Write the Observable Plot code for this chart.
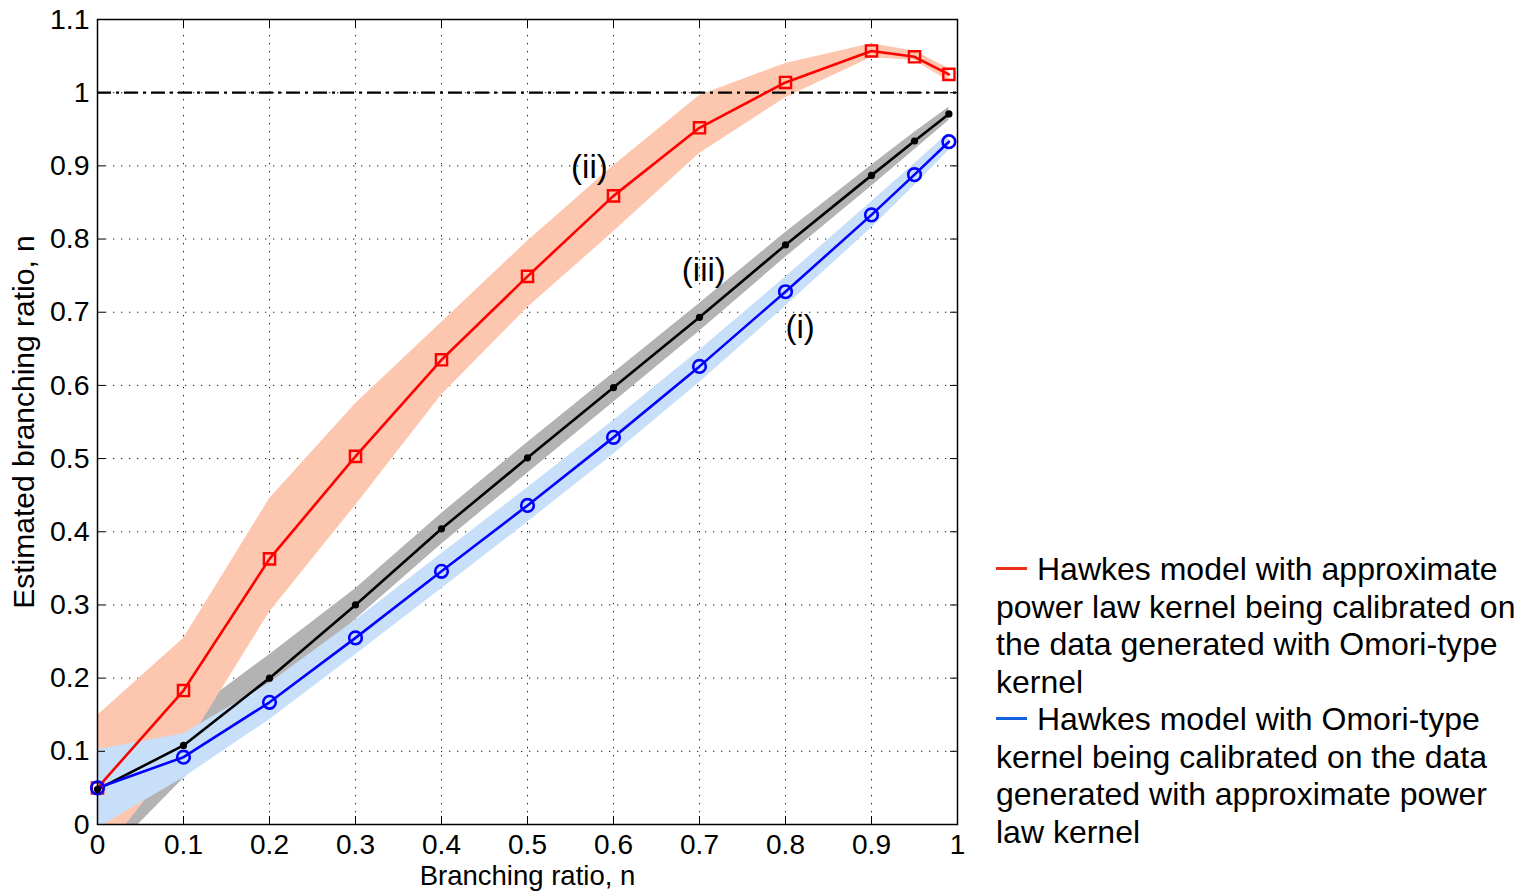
<!DOCTYPE html>
<html>
<head>
<meta charset="utf-8">
<script src="https://cdn.jsdelivr.net/npm/d3@7"></script>
<script src="https://cdn.jsdelivr.net/npm/@observablehq/plot@0.6"></script>
<style>
  html, body { margin: 0; padding: 0; background: #fff; }
  #wrap { position: relative; width: 1531px; height: 891px; font-family: "Liberation Sans", Arial, sans-serif; }
  #legend { position: absolute; left: 996px; top: 551px; font-size: 32px; line-height: 37.5px; color: #000; white-space: nowrap; }
  .sw { display: inline-block; width: 31px; height: 3px; vertical-align: middle; margin-right: 10px; position: relative; top: -3px; }
</style>
</head>
<body>
<div id="wrap"></div>
<script>
// x positions (true branching ratio)
const nTrue = [0, 0.1, 0.2, 0.3, 0.4, 0.5, 0.6, 0.7, 0.8, 0.9, 0.95, 0.99];

// (ii) red: power law kernel calibrated on Omori data
const redMean  = [0.05, 0.183, 0.363, 0.503, 0.635, 0.749, 0.859, 0.952, 1.014, 1.057, 1.049, 1.025];
const redLow   = [-0.05, 0.10, 0.29, 0.436, 0.587, 0.706, 0.81, 0.917, 0.993, 1.048, 1.044, 1.016];
const redHigh  = [0.149, 0.254, 0.445, 0.575, 0.686, 0.797, 0.90, 0.996, 1.04, 1.067, 1.057, 1.033];

// (iii) black: reference
const blackMean = [0.048, 0.108, 0.200, 0.300, 0.404, 0.501, 0.597, 0.693, 0.792, 0.887, 0.934, 0.971];
const blackLow  = [-0.057, 0.063, 0.17, 0.28, 0.383, 0.48, 0.577, 0.674, 0.775, 0.872, 0.922, 0.962];
const blackHigh = [0.07, 0.145, 0.232, 0.322, 0.425, 0.522, 0.617, 0.712, 0.809, 0.901, 0.946, 0.98];

// (i) blue: Omori kernel calibrated on power-law data
const blueMean = [0.05, 0.092, 0.167, 0.255, 0.346, 0.436, 0.529, 0.626, 0.728, 0.833, 0.888, 0.933];
const blueLow  = [-0.005, 0.064, 0.143, 0.232, 0.322, 0.413, 0.506, 0.604, 0.708, 0.815, 0.873, 0.921];
const blueHigh = [0.102, 0.124, 0.193, 0.279, 0.37, 0.46, 0.552, 0.648, 0.748, 0.851, 0.903, 0.945];

const xTicks = [0, 0.1, 0.2, 0.3, 0.4, 0.5, 0.6, 0.7, 0.8, 0.9, 1];
const yTicks = [0, 0.1, 0.2, 0.3, 0.4, 0.5, 0.6, 0.7, 0.8, 0.9, 1, 1.1];

const curveLabels = [
  {text: "(ii)", x: 0.572, y: 0.898},
  {text: "(iii)", x: 0.705, y: 0.757},
  {text: "(i)", x: 0.817, y: 0.679}
];

const legendItems = [
  {color: "#e8301a", lines: ["Hawkes model with approximate", "power law kernel being calibrated on", "the data generated with Omori-type", "kernel"]},
  {color: "#1560dc", lines: ["Hawkes model with Omori-type", "kernel being calibrated on the data", "generated with approximate power", "law kernel"]}
];

const mk = (mean, lo, hi) => nTrue.map((x, i) => ({x, y: mean[i], lo: lo[i], hi: hi[i]}));
const red = mk(redMean, redLow, redHigh);
const black = mk(blackMean, blackLow, blackHigh);
const blue = mk(blueMean, blueLow, blueHigh);

const fmt = d => d3.format("")(+d.toFixed(1));

const chart = Plot.plot({
  width: 1531,
  height: 891,
  marginLeft: 97,
  marginRight: 574,
  marginTop: 19,
  marginBottom: 67,
  style: {fontFamily: "Liberation Sans, Arial, sans-serif", fontSize: "28px", color: "#000", background: "#fff"},
  x: {domain: [0, 1], ticks: xTicks},
  y: {domain: [0, 1.1], ticks: yTicks},
  marks: [
    Plot.gridX(xTicks, {stroke: "#000", strokeOpacity: 0.9, strokeWidth: 1, strokeDasharray: "1.3,6.7"}),
    Plot.gridY(yTicks, {stroke: "#000", strokeOpacity: 0.9, strokeWidth: 1, strokeDasharray: "1.3,6.7"}),
    Plot.areaY(black, {x: "x", y1: "lo", y2: "hi", fill: "#b3b3b3", clip: true}),
    Plot.areaY(red, {x: "x", y1: "lo", y2: "hi", fill: "#fdc6ae", clip: true}),
    Plot.areaY(blue, {x: "x", y1: "lo", y2: "hi", fill: "#c8dffa", clip: true}),
    Plot.ruleY([1], {stroke: "#000", strokeWidth: 2.2, strokeDasharray: "14,5,3,5"}),
    Plot.line(red, {x: "x", y: "y", stroke: "#ff0000", strokeWidth: 2.6}),
    Plot.line(black, {x: "x", y: "y", stroke: "#000", strokeWidth: 2.6}),
    Plot.line(blue, {x: "x", y: "y", stroke: "#0000ff", strokeWidth: 2.6}),
    Plot.dot(red, {x: "x", y: "y", symbol: "square", r: 6.3, stroke: "#ff0000", strokeWidth: 2.4, fill: "none"}),
    Plot.dot(blue, {x: "x", y: "y", symbol: "circle", r: 6.3, stroke: "#0000ff", strokeWidth: 2.6, fill: "none"}),
    Plot.dot(black, {x: "x", y: "y", r: 3.6, fill: "#000", stroke: "none"}),
    Plot.text(curveLabels, {x: "x", y: "y", text: "text", fontSize: 33, fill: "#000"}),
    Plot.frame({stroke: "#000", strokeWidth: 1.5}),
    Plot.axisX(xTicks, {anchor: "bottom", tickSize: -8, tickPadding: 18, tickFormat: fmt, label: null, fontSize: 28}),
    Plot.axisX(xTicks, {anchor: "top", tickSize: -8, tickFormat: () => "", label: null}),
    Plot.axisY(yTicks, {anchor: "left", tickSize: -8, tickPadding: 16, tickFormat: fmt, label: null, fontSize: 28.5}),
    Plot.axisY(yTicks, {anchor: "right", tickSize: -8, tickFormat: () => "", label: null}),
    Plot.text(["Branching ratio, n"], {frameAnchor: "bottom", lineAnchor: "middle", dy: 52, fontSize: 27.5}),
    Plot.text(["Estimated branching ratio, n"], {frameAnchor: "left", textAnchor: "middle", rotate: -90, dx: -73, fontSize: 30})
  ]
});

const wrap = document.getElementById("wrap");
wrap.appendChild(chart);

const leg = document.createElement("div");
leg.id = "legend";
legendItems.forEach(item => {
  item.lines.forEach((ln, i) => {
    const row = document.createElement("div");
    if (i === 0) {
      const sw = document.createElement("span");
      sw.className = "sw";
      sw.style.background = item.color;
      row.appendChild(sw);
    }
    row.appendChild(document.createTextNode(ln));
    leg.appendChild(row);
  });
});
wrap.appendChild(leg);
</script>
</body>
</html>
